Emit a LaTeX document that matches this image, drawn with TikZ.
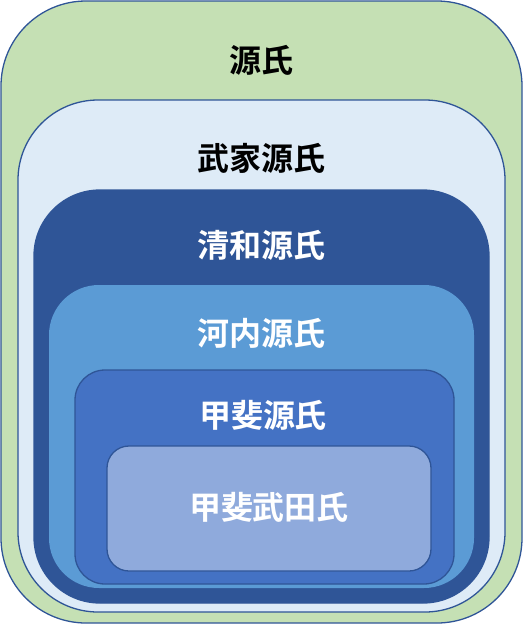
\documentclass[tikz,border=0pt]{standalone}
\usepackage{fontspec}
\newfontfamily\jpfont{Noto Sans CJK JP}[BoldFont={* Bold}]
\usepackage{xcolor}

\definecolor{clangreen}{HTML}{C5E0B4}
\definecolor{clanpale}{HTML}{DEEBF7}
\definecolor{clannavy}{HTML}{2F5597}
\definecolor{clansky}{HTML}{5B9BD5}
\definecolor{clanblue}{HTML}{4472C4}
\definecolor{clanlight}{HTML}{8FAADC}

\tikzset{
  clanbox/.style={draw=clannavy, line width=1.3pt},
  clanname/.style={font=\jpfont\bfseries\fontsize{32}{32}\selectfont, inner sep=0pt}
}

\begin{document}
\begin{tikzpicture}[x=1pt, y=-1pt]
      % \draw[help lines, gray!50, very thin] (0,0) grid (524,625);
      \useasboundingbox (0,0) rectangle (524,625);

      \draw[clanbox, fill=clangreen, rounded corners=85pt] (1,1) rectangle (522,623);
      \node[clanname] (genji) at (261.5,60) {源氏};

      \draw[clanbox, fill=clanpale, rounded corners=80pt] (18,100) rectangle (505,612);
      \node[clanname] (buke) at (261.5,158) {武家源氏};

      \draw[clanbox, fill=clannavy, rounded corners=66pt] (34,190) rectangle (489,603);
      \node[clanname, text=white] (seiwa) at (261.5,245) {清和源氏};

      \fill[clansky, rounded corners=50pt] (49,285) rectangle (474,588);
      \node[clanname, text=white] (kawachi) at (261.5,333) {河内源氏};

      \draw[clanbox, fill=clanblue, rounded corners=30pt] (75,370) rectangle (454,584);
      \node[clanname, text=white] (kai) at (263,415) {甲斐源氏};

      \draw[clanbox, fill=clanlight, rounded corners=22pt] (107,446) rectangle (431,571);
      \node[clanname, text=white] (takeda) at (269,507) {甲斐武田氏};
    \end{tikzpicture}
\end{document}
